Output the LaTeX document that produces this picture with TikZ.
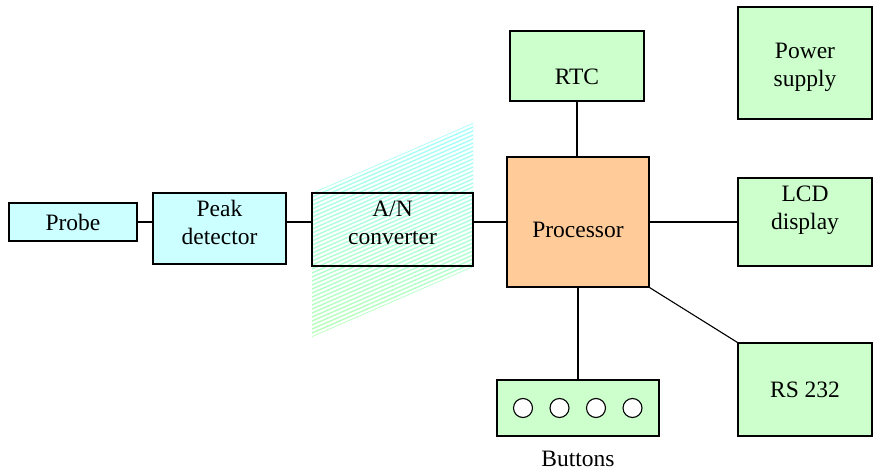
\documentclass[tikz,border=0pt]{standalone}
\usepackage{fontspec}
\setmainfont{Liberation Serif}
\newfontfamily\blockfont{Liberation Serif}
\usetikzlibrary{
    calc,
    positioning
}
\definecolor{light cyan}{HTML}{CCFFFF}
\definecolor{light green}{HTML}{CCFFCC}
\definecolor{light peach}{HTML}{FFCC99}
\tikzset{
    % Colors
    input color/.style={fill=light cyan},
    output color/.style={fill=light green},
    cpu color/.style={fill=light peach},
    %
    % Blocks
    block/.style={draw,line width=1.1pt,align=center,inner sep=0pt,minimum width=#1},
    block/.default=134pt,
    input block/.style={block=#1,input color},
    output block/.style={block=#1,output color},
    %
    % Connectors and buttons
    wire/.style={line width=1.1pt},
    knob/.style={circle,draw,fill=white,line width=1.1pt,minimum size=19pt,inner sep=0pt}
}
\tikzstyle{every node}=[font=\blockfont\fontsize{23.5}{28}\selectfont]

\begin{document}
\begin{tikzpicture}[x=1pt,y=-1pt]
        \useasboundingbox (0,0) rectangle (880,473);
        
        % striped fan behind the converter
        \begin{scope}
            \clip (312,193) -- (473,123) -- (473,267) -- (312,337) -- cycle;
            \shade[top color=cyan!35,bottom color=green!28] (312,123) rectangle (473,337);
            \foreach \k in {0,4,...,216}
                \draw[white,line width=2pt] (312,193+\k-2) -- (473,123+\k-2);
        \end{scope}
        
        \node[input block=128pt,minimum height=38pt] (probe) at (73,222) {Probe};
        \node[input block=133pt,minimum height=71pt,text depth=13pt] (peak) at (219.5,228.5) {Peak\\detector};
        \node[block=161pt,minimum height=73pt,text depth=14pt] (conv) at (392.5,229.5) {A/N\\converter};
        \node[block=142pt,minimum height=130pt,text height=32pt,cpu color] (cpu) at (578,222) {Processor};
        
        \node[output block,minimum height=70pt,text height=38pt] (rtc) at (577,66) {RTC};
        \node[output block,minimum height=112pt] (power) at (805,63) {\rule{0pt}{24pt}Power\\supply};
        \node[output block,minimum height=88pt,text depth=29pt] (lcd) at (805,222) {LCD\\display};
        \node[output block,minimum height=93pt] (rs) at (805,389.5) {RS 232};
        \node[output block=162pt,minimum height=56pt] (keys) at (578,408) {};
        \node[below=11pt of keys] (keyslabel) {Buttons};
        
        \foreach \i in {0,...,3}
            \node[knob] (btn\i) at (523+36.5*\i,408) {};
        
        \draw[wire] (probe.east) -- (probe.east -| peak.west);
        \draw[wire] (peak.east |- probe.east) -- (conv.west |- probe.east);
        \draw[wire] (conv.east |- cpu.west) -- (cpu.west);
        \draw[wire] (cpu.east) -- (cpu.east -| lcd.west);
        \draw[wire] (rtc.south) -- (rtc.south |- cpu.north);
        \draw[wire] (cpu.south) -- (keys.north);
        \draw[wire] (cpu.south east) -- (rs.north west);
    \end{tikzpicture}
\end{document}
